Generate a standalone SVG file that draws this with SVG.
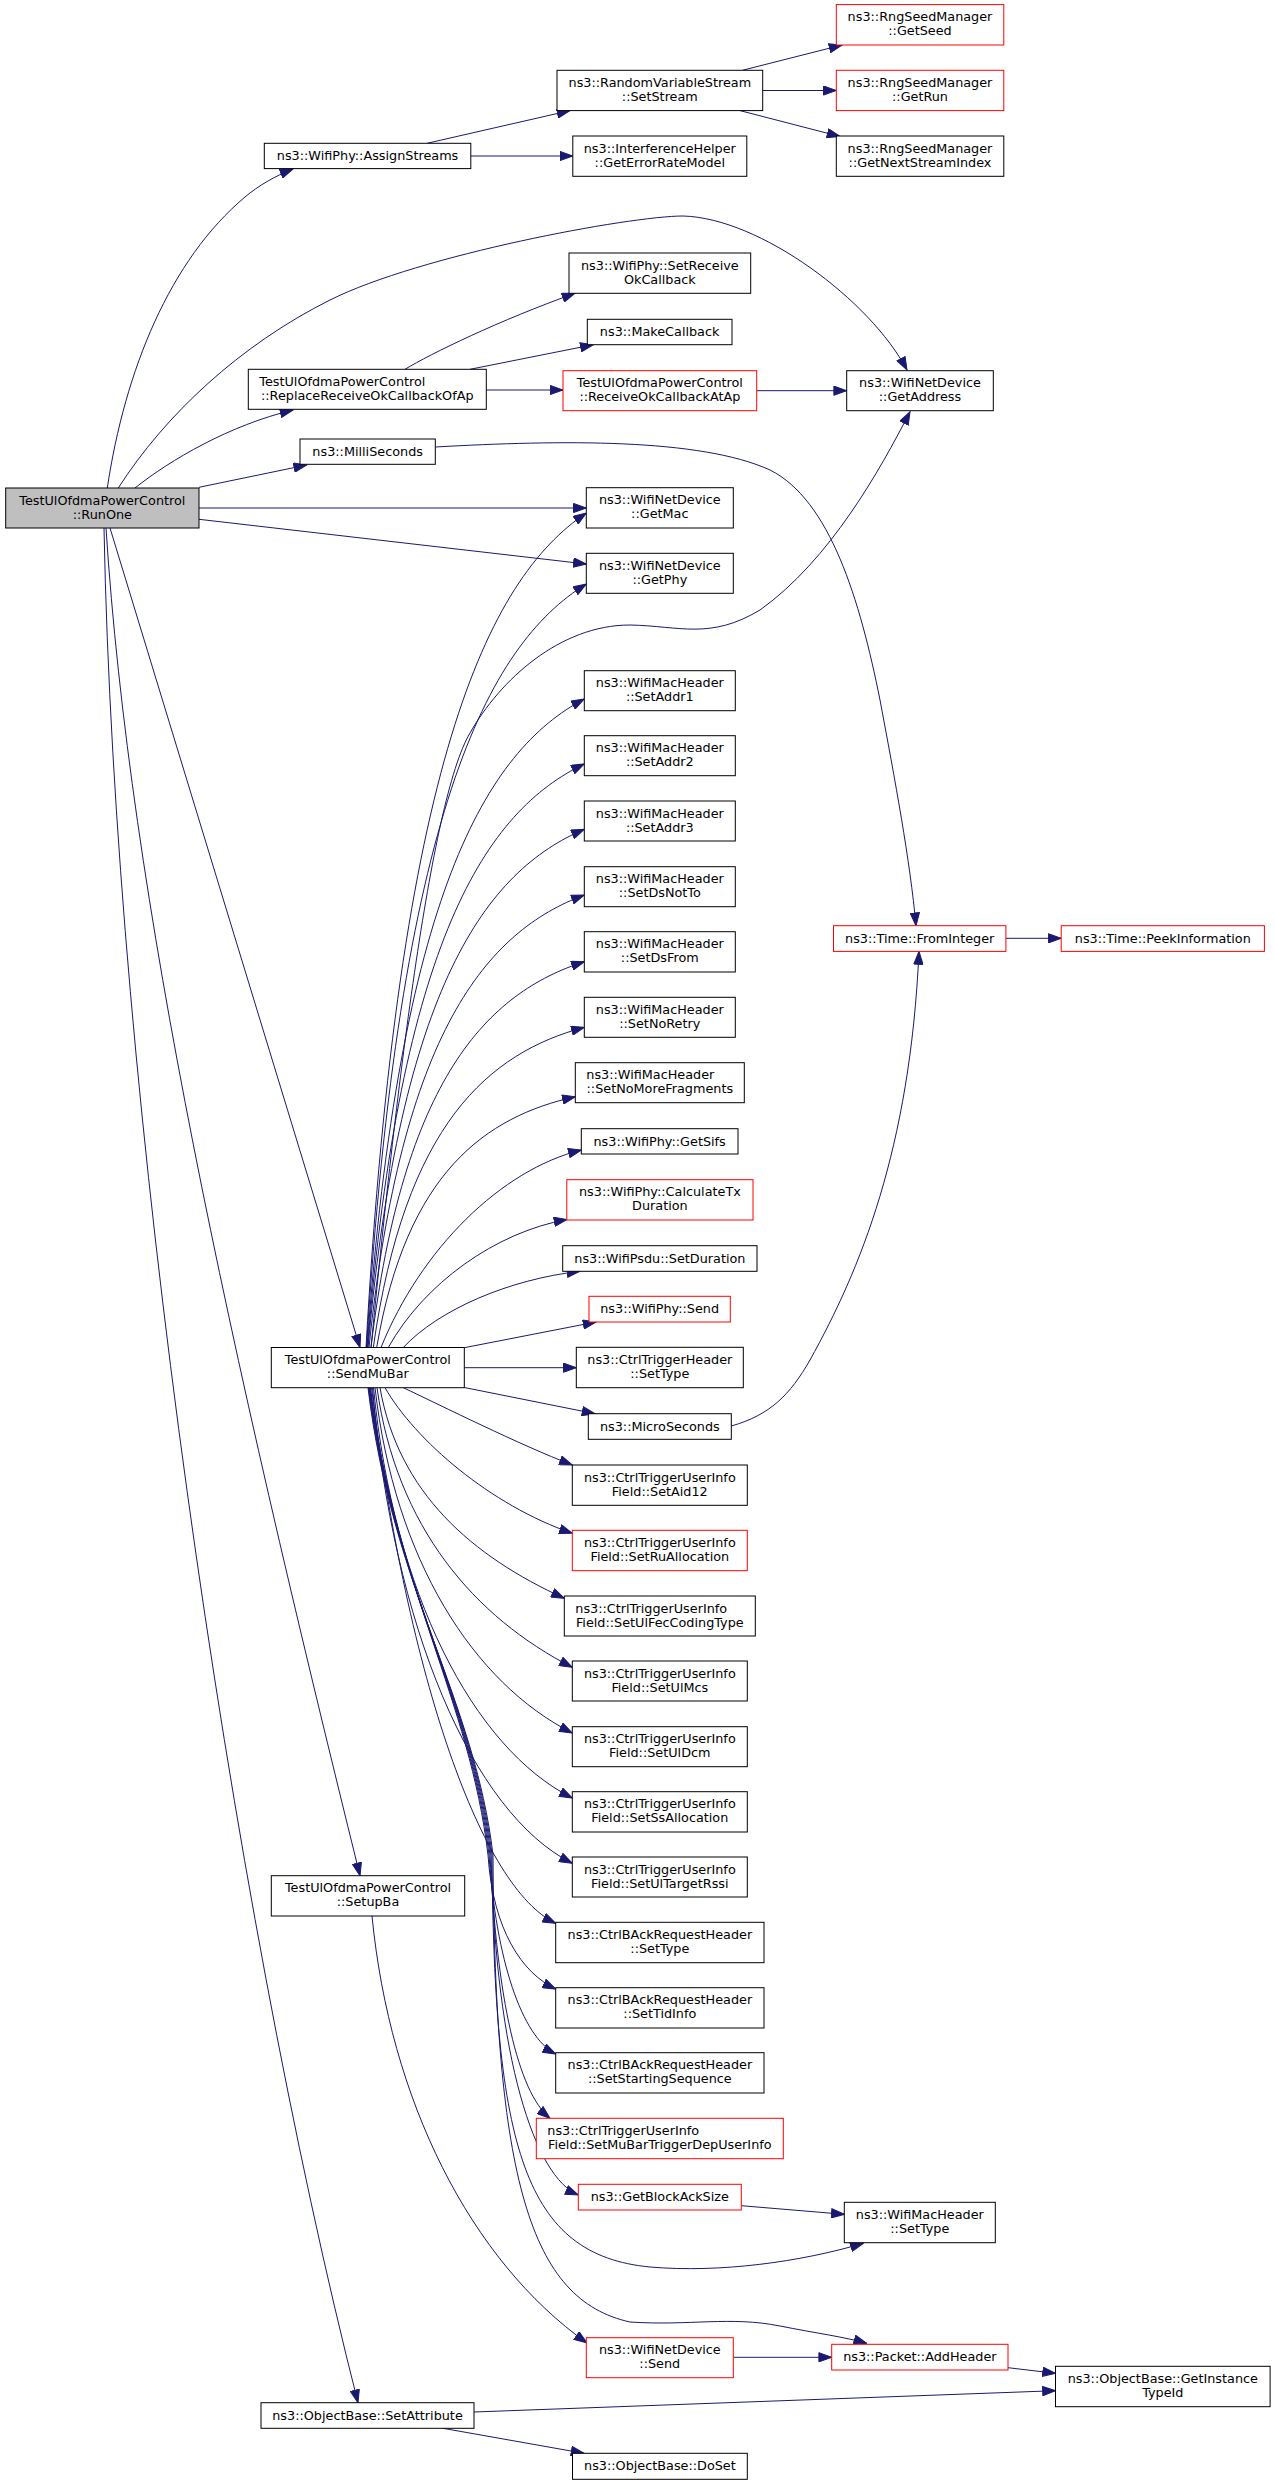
<svg xmlns="http://www.w3.org/2000/svg" width="1275" height="2485" viewBox="0 0 1275 2485">
<style>
.n rect{fill:#ffffff;stroke:#000000;stroke-width:1}
.n.r rect{stroke:#ff0000}
.n.root rect{fill:#bfbfbf}
text{font-family:"DejaVu Sans","Liberation Sans",sans-serif;font-size:12.8px;fill:#000000}
.m{text-anchor:middle}
.s{text-anchor:start}
#edges path{fill:none;stroke:#191970;stroke-width:1;marker-end:url(#ah)}
</style>
<defs>
<marker id="ah" viewBox="0 0 14 10" refX="13.3" refY="5" markerWidth="14" markerHeight="10" markerUnits="userSpaceOnUse" orient="auto">
<path d="M0.5,0.4 L13.3,5 L0.5,9.6 z" fill="#191970" stroke="#191970" stroke-width="1"/>
</marker>
</defs>
<rect x="0" y="0" width="1275" height="2485" fill="#ffffff"/>

<g id="edges">
<path d="M107.3,488 C125,370 170,260 245,197 C258,186 275,176 293,169"/>
<path d="M118.3,488 C165,415 240,345 330,300 C420,255 630,216 683,216 C760,218 870,300 907,370"/>
<path d="M135,488 C170,460 230,425 293,410"/>
<path d="M199,487.3 L306.7,465"/>
<path d="M199,508 L586.3,508"/>
<path d="M199,519.3 L586.3,564"/>
<path d="M110,528 L360,1347.5"/>
<path d="M106,528 C130,900 230,1350 360,1875.7"/>
<path d="M104,528 C115,1100 230,1900 358,2402.7"/>
<path d="M427,143.3 L570,110.6"/>
<path d="M470.8,156 L572.8,156"/>
<path d="M742.4,70.3 L842,45"/>
<path d="M762.7,90.5 L836.3,90.5"/>
<path d="M740,110.6 L840,136.5"/>
<path d="M405,369.3 C430,354 500,320 575,293.3"/>
<path d="M470,369.3 L593.3,344.7"/>
<path d="M486.3,390 L563,390"/>
<path d="M756.7,390.7 L846.7,390.7"/>
<path d="M435.3,447 C560,440 700,438 770,470 C830,500 860,600 880,700 C895,780 910,860 916,925.7"/>
<path d="M1005.9,938.3 L1061.2,938.3"/>
<path d="M731.3,1426 C770,1415 790,1395 810,1360 C860,1270 910,1150 919,951.4"/>
<path d="M741.3,2205.7 L844.3,2214.3"/>
<path d="M372,1916 C390,2100 470,2260 587,2343"/>
<path d="M733.3,2357.3 L831.7,2357.3"/>
<path d="M1008,2367.7 L1055.5,2373.3"/>
<path d="M474,2412 L1055.5,2390.7"/>
<path d="M443,2428.3 L584,2453.3"/>
<path d="M366,1347.5 C399,763.4 487,579.8 586.3,513"/>
<path d="M366.5,1347.5 C399.4,813 487.2,645.1 586.3,584"/>
<path d="M371,1347.5 C395,1100 430,800 470,733 C500,680 560,625 630,625 C680,626 710,640 760,610 C830,560 880,470 910,411.7"/>
<path d="M367,1347.5 C399.6,893.6 486.4,750.9 584.3,699"/>
<path d="M367.5,1347.5 C400,939 486.6,810.7 584.3,764"/>
<path d="M368,1347.5 C400.4,984.8 486.8,870.8 584.3,829.3"/>
<path d="M369,1347.5 C401.3,1030.8 487.3,931.2 584.3,895"/>
<path d="M371,1347.5 C403,1077.4 488.2,992.6 584.3,961.7"/>
<path d="M373.3,1347.5 C404.9,1123.4 489.2,1052.9 584.3,1027.3"/>
<path d="M376.7,1347.5 C406.5,1171.9 485.9,1116.8 575.3,1096.7"/>
<path d="M381,1347.5 C421,1248.75 501.2,1169.75 581.3,1150"/>
<path d="M388.3,1347.5 C424,1283.5 495.5,1232.3 567,1219.5"/>
<path d="M403.3,1347.5 C438.6,1309.6 509.3,1279.3 580,1271.3"/>
<path d="M464.3,1347.7 L596,1322"/>
<path d="M464.3,1367.7 L576.3,1367.7"/>
<path d="M464.3,1387.5 L595,1413.7"/>
<path d="M403.3,1387.7 C440,1405 520,1445 572.3,1465"/>
<path d="M385,1387.7 C415,1440 490,1505 572.3,1533.3"/>
<path d="M380,1387.7 C398.4,1493 472.2,1556.2 564.3,1598.3"/>
<path d="M377,1387.7 C396.5,1527.5 474.65,1617.3 572.3,1667.3"/>
<path d="M375,1387.7 C394.7,1560.4 473.65,1683 572.3,1733"/>
<path d="M373.5,1387.7 C393.4,1592.9 472.9,1748 572.3,1798"/>
<path d="M372.5,1387.7 C392.5,1625.5 472.4,1813.3 572.3,1863.3"/>
<path d="M371.5,1387.7 C408.3,1682.3 482,1888.3 555.7,1923.3"/>
<path d="M370.5,1387.7 C395,1588 470,1700 488,1855 C493,1930 522,1973 555.7,1989"/>
<path d="M370,1387.7 C395,1588 471,1700 489,1855 C496,1960 522,2037 555.7,2054"/>
<path d="M369.5,1387.7 C394,1588 472,1700 490,1855 C497,2000 518,2092 550,2118.3"/>
<path d="M369,1387.7 C394,1588 473,1700 491,1855 C496,2060 535,2177 578.3,2195"/>
<path d="M368.5,1387.7 C393,1588 474,1700 492,1855 C494,2150 525,2255 650,2267 C720,2273 800,2262 863.3,2243.3"/>
<path d="M368,1387.7 C392,1588 475,1700 493,1855 C495,2180 530,2300 630,2322 C690,2326 730,2316 780,2326 C815,2333 845,2337 866.7,2343.3"/>
</g>

<g id="getseed" class="n r"><rect x="836.3" y="4.6" width="167.5" height="40.4"/><text class="m" x="920" y="21.2">ns3::RngSeedManager</text><text class="m" x="920" y="35.2">::GetSeed</text></g>
<g id="getrun" class="n r"><rect x="836.3" y="70.3" width="167.5" height="40.3"/><text class="m" x="920" y="86.9">ns3::RngSeedManager</text><text class="m" x="920" y="100.9">::GetRun</text></g>
<g id="getnextstreamindex" class="n"><rect x="836.3" y="136" width="167.5" height="40.3"/><text class="m" x="920" y="152.6">ns3::RngSeedManager</text><text class="m" x="920" y="166.6">::GetNextStreamIndex</text></g>
<g id="setstream" class="n"><rect x="557" y="70.3" width="205.7" height="40.3"/><text class="m" x="659.85" y="86.9">ns3::RandomVariableStream</text><text class="m" x="659.85" y="100.9">::SetStream</text></g>
<g id="geterrorratemodel" class="n"><rect x="572.8" y="136" width="174" height="40.3"/><text class="m" x="659.8" y="152.6">ns3::InterferenceHelper</text><text class="m" x="659.8" y="166.6">::GetErrorRateModel</text></g>
<g id="assignstreams" class="n"><rect x="264.3" y="143.3" width="206.5" height="25.3"/><text class="m" x="367.55" y="160.1">ns3::WifiPhy::AssignStreams</text></g>
<g id="setreceiveokcallback" class="n"><rect x="569" y="253" width="181.7" height="40.3"/><text class="m" x="659.85" y="269.6">ns3::WifiPhy::SetReceive</text><text class="m" x="659.85" y="283.6">OkCallback</text></g>
<g id="makecallback" class="n"><rect x="587.3" y="319.3" width="144.7" height="25.4"/><text class="m" x="659.65" y="336.1">ns3::MakeCallback</text></g>
<g id="replacereceiveokcallbackofap" class="n"><rect x="248.3" y="369.3" width="238" height="40"/><text class="s" x="259.3" y="385.9">TestUlOfdmaPowerControl</text><text class="m" x="367.3" y="399.9">::ReplaceReceiveOkCallbackOfAp</text></g>
<g id="receiveokcallbackatap" class="n r"><rect x="563" y="370.7" width="193.7" height="40"/><text class="m" x="659.85" y="387.3">TestUlOfdmaPowerControl</text><text class="m" x="659.85" y="401.3">::ReceiveOkCallbackAtAp</text></g>
<g id="getaddress" class="n"><rect x="846.7" y="370.7" width="146.6" height="40"/><text class="m" x="920" y="387.3">ns3::WifiNetDevice</text><text class="m" x="920" y="401.3">::GetAddress</text></g>
<g id="milliseconds" class="n"><rect x="300" y="439" width="135.3" height="25.3"/><text class="m" x="367.65" y="455.8">ns3::MilliSeconds</text></g>
<g id="runone" class="n root"><rect x="5.7" y="488" width="193.3" height="40"/><text class="m" x="102.35" y="504.6">TestUlOfdmaPowerControl</text><text class="m" x="102.35" y="518.6">::RunOne</text></g>
<g id="getmac" class="n"><rect x="586.3" y="487.7" width="147" height="40.3"/><text class="m" x="659.8" y="504.3">ns3::WifiNetDevice</text><text class="m" x="659.8" y="518.3">::GetMac</text></g>
<g id="getphy" class="n"><rect x="586.3" y="553.3" width="147" height="40"/><text class="m" x="659.8" y="569.9">ns3::WifiNetDevice</text><text class="m" x="659.8" y="583.9">::GetPhy</text></g>
<g id="setaddr1" class="n"><rect x="584.3" y="670.7" width="151" height="40"/><text class="m" x="659.8" y="687.3">ns3::WifiMacHeader</text><text class="m" x="659.8" y="701.3">::SetAddr1</text></g>
<g id="setaddr2" class="n"><rect x="584.3" y="735.7" width="151" height="40"/><text class="m" x="659.8" y="752.3">ns3::WifiMacHeader</text><text class="m" x="659.8" y="766.3">::SetAddr2</text></g>
<g id="setaddr3" class="n"><rect x="584.3" y="801" width="151" height="40"/><text class="m" x="659.8" y="817.6">ns3::WifiMacHeader</text><text class="m" x="659.8" y="831.6">::SetAddr3</text></g>
<g id="setdsnotto" class="n"><rect x="584.3" y="866.7" width="151" height="40"/><text class="m" x="659.8" y="883.3">ns3::WifiMacHeader</text><text class="m" x="659.8" y="897.3">::SetDsNotTo</text></g>
<g id="setdsfrom" class="n"><rect x="584.3" y="931.7" width="151" height="40.3"/><text class="m" x="659.8" y="948.3">ns3::WifiMacHeader</text><text class="m" x="659.8" y="962.3">::SetDsFrom</text></g>
<g id="setnoretry" class="n"><rect x="584.3" y="997.3" width="151" height="40"/><text class="m" x="659.8" y="1013.9">ns3::WifiMacHeader</text><text class="m" x="659.8" y="1027.9">::SetNoRetry</text></g>
<g id="setnomorefragments" class="n"><rect x="575.3" y="1062.7" width="169" height="40"/><text class="s" x="586.3" y="1079.3">ns3::WifiMacHeader</text><text class="m" x="659.8" y="1093.3">::SetNoMoreFragments</text></g>
<g id="getsifs" class="n"><rect x="581.3" y="1128.7" width="156.7" height="25.3"/><text class="m" x="659.65" y="1145.5">ns3::WifiPhy::GetSifs</text></g>
<g id="calculatetxduration" class="n r"><rect x="566.8" y="1179.7" width="186.2" height="40.3"/><text class="m" x="659.9" y="1196.3">ns3::WifiPhy::CalculateTx</text><text class="m" x="659.9" y="1210.3">Duration</text></g>
<g id="setduration" class="n"><rect x="562.7" y="1245.7" width="194.3" height="25.6"/><text class="m" x="659.85" y="1262.5">ns3::WifiPsdu::SetDuration</text></g>
<g id="wifiphysend" class="n r"><rect x="589" y="1296.3" width="141.3" height="25.7"/><text class="m" x="659.65" y="1313.1">ns3::WifiPhy::Send</text></g>
<g id="sendmubar" class="n"><rect x="271.3" y="1347.5" width="193" height="40.2"/><text class="m" x="367.8" y="1364.1">TestUlOfdmaPowerControl</text><text class="m" x="367.8" y="1378.1">::SendMuBar</text></g>
<g id="ctrltriggerheadersettype" class="n"><rect x="576.3" y="1347.3" width="167" height="40.4"/><text class="m" x="659.8" y="1363.9">ns3::CtrlTriggerHeader</text><text class="m" x="659.8" y="1377.9">::SetType</text></g>
<g id="microseconds" class="n"><rect x="588.3" y="1413.7" width="143" height="25.6"/><text class="m" x="659.8" y="1430.5">ns3::MicroSeconds</text></g>
<g id="setaid12" class="n"><rect x="572.3" y="1465" width="175" height="40.3"/><text class="m" x="659.8" y="1481.6">ns3::CtrlTriggerUserInfo</text><text class="m" x="659.8" y="1495.6">Field::SetAid12</text></g>
<g id="setruallocation" class="n r"><rect x="572.3" y="1530.3" width="175" height="40.4"/><text class="m" x="659.8" y="1546.9">ns3::CtrlTriggerUserInfo</text><text class="m" x="659.8" y="1560.9">Field::SetRuAllocation</text></g>
<g id="setulfeccodingtype" class="n"><rect x="564.3" y="1596" width="191" height="40"/><text class="s" x="575.3" y="1612.6">ns3::CtrlTriggerUserInfo</text><text class="m" x="659.8" y="1626.6">Field::SetUlFecCodingType</text></g>
<g id="setulmcs" class="n"><rect x="572.3" y="1661" width="175" height="40"/><text class="m" x="659.8" y="1677.6">ns3::CtrlTriggerUserInfo</text><text class="m" x="659.8" y="1691.6">Field::SetUlMcs</text></g>
<g id="setuldcm" class="n"><rect x="572.3" y="1726.7" width="175" height="40"/><text class="m" x="659.8" y="1743.3">ns3::CtrlTriggerUserInfo</text><text class="m" x="659.8" y="1757.3">Field::SetUlDcm</text></g>
<g id="setssallocation" class="n"><rect x="572.3" y="1791.7" width="175" height="40.3"/><text class="m" x="659.8" y="1808.3">ns3::CtrlTriggerUserInfo</text><text class="m" x="659.8" y="1822.3">Field::SetSsAllocation</text></g>
<g id="setultargetrssi" class="n"><rect x="572.3" y="1857" width="175" height="40"/><text class="m" x="659.8" y="1873.6">ns3::CtrlTriggerUserInfo</text><text class="m" x="659.8" y="1887.6">Field::SetUlTargetRssi</text></g>
<g id="setupba" class="n"><rect x="271.3" y="1875.7" width="193.4" height="40.3"/><text class="m" x="368" y="1892.3">TestUlOfdmaPowerControl</text><text class="m" x="368" y="1906.3">::SetupBa</text></g>
<g id="barsettype" class="n"><rect x="555.7" y="1922.3" width="208.3" height="40.4"/><text class="m" x="659.85" y="1938.9">ns3::CtrlBAckRequestHeader</text><text class="m" x="659.85" y="1952.9">::SetType</text></g>
<g id="settidinfo" class="n"><rect x="555.7" y="1987.7" width="208.3" height="40.3"/><text class="m" x="659.85" y="2004.3">ns3::CtrlBAckRequestHeader</text><text class="m" x="659.85" y="2018.3">::SetTidInfo</text></g>
<g id="setstartingsequence" class="n"><rect x="555.7" y="2052.7" width="208.3" height="40.3"/><text class="m" x="659.85" y="2069.3">ns3::CtrlBAckRequestHeader</text><text class="m" x="659.85" y="2083.3">::SetStartingSequence</text></g>
<g id="setmubartriggerdepuserinfo" class="n r"><rect x="536.3" y="2118.3" width="247" height="40.4"/><text class="s" x="547.3" y="2134.9">ns3::CtrlTriggerUserInfo</text><text class="m" x="659.8" y="2148.9">Field::SetMuBarTriggerDepUserInfo</text></g>
<g id="getblockacksize" class="n r"><rect x="578.3" y="2184.3" width="163" height="25.7"/><text class="m" x="659.8" y="2201.1">ns3::GetBlockAckSize</text></g>
<g id="wifimacheadersettype" class="n"><rect x="844.3" y="2202.3" width="151" height="40.4"/><text class="m" x="919.8" y="2218.9">ns3::WifiMacHeader</text><text class="m" x="919.8" y="2232.9">::SetType</text></g>
<g id="wifinetdevicesend" class="n r"><rect x="586.3" y="2337.7" width="147" height="40"/><text class="m" x="659.8" y="2354.3">ns3::WifiNetDevice</text><text class="m" x="659.8" y="2368.3">::Send</text></g>
<g id="addheader" class="n r"><rect x="831.7" y="2344.3" width="176.3" height="25.7"/><text class="m" x="919.85" y="2361.1">ns3::Packet::AddHeader</text></g>
<g id="getinstancetypeid" class="n"><rect x="1055.5" y="2366.3" width="214.6" height="40.4"/><text class="m" x="1162.8" y="2382.9">ns3::ObjectBase::GetInstance</text><text class="m" x="1162.8" y="2396.9">TypeId</text></g>
<g id="setattribute" class="n"><rect x="261" y="2402.7" width="213" height="25.6"/><text class="m" x="367.5" y="2419.5">ns3::ObjectBase::SetAttribute</text></g>
<g id="doset" class="n"><rect x="572.5" y="2453.3" width="174.8" height="26"/><text class="m" x="659.9" y="2470.1">ns3::ObjectBase::DoSet</text></g>
<g id="frominteger" class="n r"><rect x="833.5" y="925.7" width="172.4" height="25.7"/><text class="m" x="919.7" y="942.5">ns3::Time::FromInteger</text></g>
<g id="peekinformation" class="n r"><rect x="1061.2" y="925.7" width="203.2" height="25.7"/><text class="m" x="1162.8" y="942.5">ns3::Time::PeekInformation</text></g>
</svg>
